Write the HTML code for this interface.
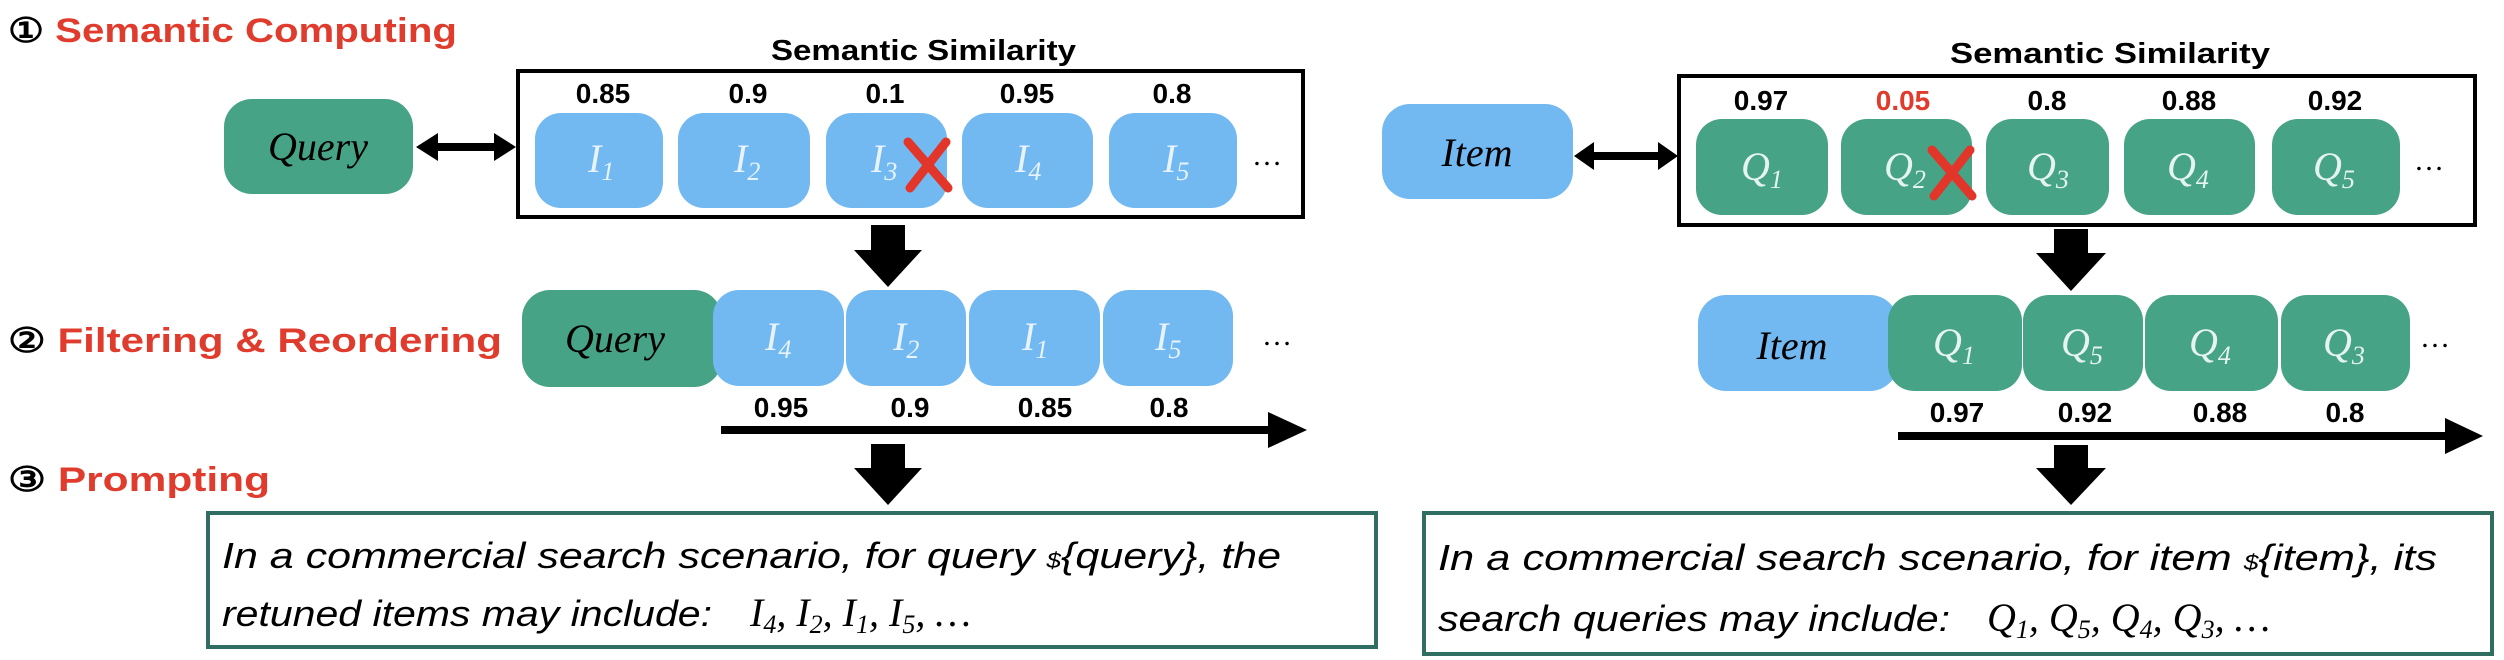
<!DOCTYPE html>
<html><head><meta charset="utf-8"><style>
html,body{margin:0;padding:0;background:#fff;width:2504px;height:660px;overflow:hidden}
.t{font-family:"Liberation Sans",sans-serif;font-weight:bold}
.s{font-family:"Liberation Serif",serif;font-style:italic}
.p{font-family:"Liberation Sans",sans-serif;font-style:italic;font-size:36px}
</style></head><body>
<svg width="2504" height="660" viewBox="0 0 2504 660" xmlns="http://www.w3.org/2000/svg">
<defs>
<g id="x"><path d="M0 0 L40 46 M38 0 L2 46" stroke="#e2362b" stroke-width="9" stroke-linecap="round"/></g>
</defs>
<!-- titles -->
<text class="t" x="8" y="42" font-size="34" textLength="449" lengthAdjust="spacingAndGlyphs"><tspan fill="#000">① </tspan><tspan fill="#e03c2e">Semantic Computing</tspan></text>
<text class="t" x="8" y="352" font-size="34" textLength="494" lengthAdjust="spacingAndGlyphs"><tspan fill="#000">② </tspan><tspan fill="#e03c2e">Filtering &amp; Reordering</tspan></text>
<text class="t" x="8" y="491" font-size="34" textLength="262" lengthAdjust="spacingAndGlyphs"><tspan fill="#000">③ </tspan><tspan fill="#e03c2e">Prompting</tspan></text>
<text class="t" x="771" y="60" font-size="29" textLength="305" lengthAdjust="spacingAndGlyphs">Semantic Similarity</text>
<text class="t" x="1950" y="63" font-size="29" textLength="320" lengthAdjust="spacingAndGlyphs">Semantic Similarity</text>

<!-- LEFT row1 -->
<rect x="518" y="71" width="785" height="146" fill="none" stroke="#000" stroke-width="4"/>
<rect x="224" y="99" width="189" height="95" rx="28" fill="#46a385"/>
<text class="s" x="318" y="160" font-size="40" text-anchor="middle">Query</text>
<path d="M416 147 L438 133 L438 143 L494 143 L494 133 L516 147 L494 161 L494 151 L438 151 L438 161 Z" fill="#000"/>
<g class="t" font-size="28" text-anchor="middle">
<text x="603" y="103">0.85</text><text x="748" y="103">0.9</text><text x="885" y="103">0.1</text><text x="1027" y="103">0.95</text><text x="1172" y="103">0.8</text>
</g>
<g fill="#72b9f2">
<rect x="535" y="113" width="128" height="95" rx="26"/><rect x="678" y="113" width="132" height="95" rx="26"/><rect x="826" y="113" width="121" height="95" rx="26"/><rect x="962" y="113" width="131" height="95" rx="26"/><rect x="1109" y="113" width="128" height="95" rx="26"/>
</g>
<g class="s" fill="#e8f3fc" font-size="40">
<text x="588" y="172">I<tspan font-size="26" dy="8">1</tspan></text>
<text x="734" y="172">I<tspan font-size="26" dy="8">2</tspan></text>
<text x="871" y="172">I<tspan font-size="26" dy="8">3</tspan></text>
<text x="1015" y="172">I<tspan font-size="26" dy="8">4</tspan></text>
<text x="1163" y="172">I<tspan font-size="26" dy="8">5</tspan></text>
</g>
<use href="#x" x="908" y="142"/>
<text x="1252" y="165" font-size="30" font-family="Liberation Serif">…</text>
<path d="M871 225 L905 225 L905 250 L922 250 L888 287 L854 250 L871 250 Z" fill="#000"/>

<!-- LEFT row2 -->
<rect x="522" y="290" width="200" height="97" rx="28" fill="#46a385"/>
<g fill="#72b9f2">
<rect x="713" y="290" width="131" height="96" rx="26"/><rect x="846" y="290" width="120" height="96" rx="26"/><rect x="969" y="290" width="131" height="96" rx="26"/><rect x="1103" y="290" width="130" height="96" rx="26"/>
</g>
<text class="s" x="615" y="352" font-size="40" text-anchor="middle">Query</text>
<g class="s" fill="#e8f3fc" font-size="40">
<text x="765" y="350">I<tspan font-size="26" dy="8">4</tspan></text>
<text x="893" y="350">I<tspan font-size="26" dy="8">2</tspan></text>
<text x="1022" y="350">I<tspan font-size="26" dy="8">1</tspan></text>
<text x="1155" y="350">I<tspan font-size="26" dy="8">5</tspan></text>
</g>
<text x="1262" y="345" font-size="30" font-family="Liberation Serif">…</text>
<g class="t" font-size="28" text-anchor="middle">
<text x="781" y="417">0.95</text><text x="910" y="417">0.9</text><text x="1045" y="417">0.85</text><text x="1169" y="417">0.8</text>
</g>
<rect x="721" y="426" width="550" height="8" fill="#000"/>
<path d="M1268 412 L1307 430 L1268 448 Z" fill="#000"/>
<path d="M871 444 L905 444 L905 468 L922 468 L888 505 L854 468 L871 468 Z" fill="#000"/>
<rect x="208" y="513" width="1168" height="134" fill="none" stroke="#2f6e60" stroke-width="4"/>
<text class="p" x="222" y="568" textLength="1059" lengthAdjust="spacingAndGlyphs">In a commercial search scenario,   for query <tspan font-size="22">$</tspan>{query},   the</text>
<text class="p" x="222" y="626" textLength="490" lengthAdjust="spacingAndGlyphs">retuned items may include:</text>
<text class="s" x="750" y="626" font-size="40">I<tspan font-size="26" dy="7">4</tspan><tspan dy="-7">, I</tspan><tspan font-size="26" dy="7">2</tspan><tspan dy="-7">, I</tspan><tspan font-size="26" dy="7">1</tspan><tspan dy="-7">, I</tspan><tspan font-size="26" dy="7">5</tspan><tspan dy="-7">, …</tspan></text>

<!-- RIGHT row1 -->
<rect x="1679" y="76" width="796" height="149" fill="none" stroke="#000" stroke-width="4"/>
<rect x="1382" y="104" width="191" height="95" rx="28" fill="#72b9f2"/>
<text class="s" x="1477" y="166" font-size="40" text-anchor="middle">Item</text>
<path d="M1574 156 L1594 142 L1594 152 L1658 152 L1658 142 L1678 156 L1658 170 L1658 160 L1594 160 L1594 170 Z" fill="#000"/>
<g class="t" font-size="28" text-anchor="middle">
<text x="1761" y="110">0.97</text><text x="1903" y="110" fill="#e03c2e">0.05</text><text x="2047" y="110">0.8</text><text x="2189" y="110">0.88</text><text x="2335" y="110">0.92</text>
</g>
<g fill="#46a385">
<rect x="1696" y="119" width="132" height="96" rx="26"/><rect x="1841" y="119" width="131" height="96" rx="26"/><rect x="1986" y="119" width="123" height="96" rx="26"/><rect x="2124" y="119" width="131" height="96" rx="26"/><rect x="2272" y="119" width="128" height="96" rx="26"/>
</g>
<g class="s" fill="#e6f4ef" font-size="40">
<text x="1741" y="180">Q<tspan font-size="26" dy="8">1</tspan></text>
<text x="1884" y="180">Q<tspan font-size="26" dy="8">2</tspan></text>
<text x="2027" y="180">Q<tspan font-size="26" dy="8">3</tspan></text>
<text x="2167" y="180">Q<tspan font-size="26" dy="8">4</tspan></text>
<text x="2313" y="180">Q<tspan font-size="26" dy="8">5</tspan></text>
</g>
<use href="#x" x="1932" y="150"/>
<text x="2414" y="170" font-size="30" font-family="Liberation Serif">…</text>
<path d="M2054 229 L2088 229 L2088 253 L2106 253 L2071 291 L2036 253 L2054 253 Z" fill="#000"/>

<!-- RIGHT row2 -->
<rect x="1698" y="295" width="200" height="96" rx="28" fill="#72b9f2"/>
<g fill="#46a385">
<rect x="1888" y="295" width="134" height="96" rx="26"/><rect x="2023" y="295" width="120" height="96" rx="26"/><rect x="2145" y="295" width="133" height="96" rx="26"/><rect x="2281" y="295" width="129" height="96" rx="26"/>
</g>
<text class="s" x="1792" y="359" font-size="40" text-anchor="middle">Item</text>
<g class="s" fill="#e6f4ef" font-size="40">
<text x="1933" y="356">Q<tspan font-size="26" dy="8">1</tspan></text>
<text x="2061" y="356">Q<tspan font-size="26" dy="8">5</tspan></text>
<text x="2189" y="356">Q<tspan font-size="26" dy="8">4</tspan></text>
<text x="2323" y="356">Q<tspan font-size="26" dy="8">3</tspan></text>
</g>
<text x="2420" y="347" font-size="30" font-family="Liberation Serif">…</text>
<g class="t" font-size="28" text-anchor="middle">
<text x="1957" y="422">0.97</text><text x="2085" y="422">0.92</text><text x="2220" y="422">0.88</text><text x="2345" y="422">0.8</text>
</g>
<rect x="1898" y="432" width="550" height="8" fill="#000"/>
<path d="M2445 418 L2483 436 L2445 454 Z" fill="#000"/>
<path d="M2054 445 L2088 445 L2088 468 L2106 468 L2071 505 L2036 468 L2054 468 Z" fill="#000"/>
<rect x="1424" y="513" width="1068" height="141" fill="none" stroke="#2f6e60" stroke-width="4"/>
<text class="p" x="1438" y="570" textLength="999" lengthAdjust="spacingAndGlyphs">In a commercial search scenario,   for item <tspan font-size="22">$</tspan>{item},   its</text>
<text class="p" x="1438" y="631" textLength="512" lengthAdjust="spacingAndGlyphs">search queries may include:</text>
<text class="s" x="1987" y="631" font-size="40">Q<tspan font-size="26" dy="7">1</tspan><tspan dy="-7">, Q</tspan><tspan font-size="26" dy="7">5</tspan><tspan dy="-7">, Q</tspan><tspan font-size="26" dy="7">4</tspan><tspan dy="-7">, Q</tspan><tspan font-size="26" dy="7">3</tspan><tspan dy="-7">, …</tspan></text>
</svg>
</body></html>
